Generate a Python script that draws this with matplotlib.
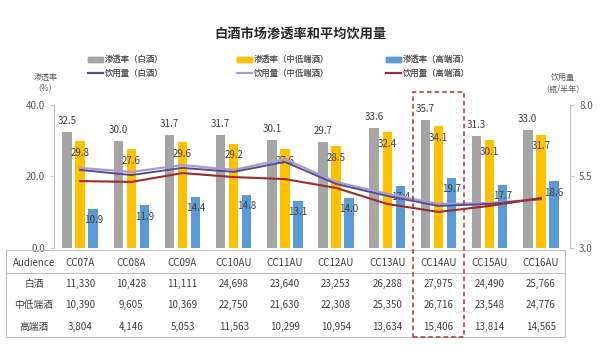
import matplotlib
matplotlib.use("Agg")
import matplotlib.pyplot as plt
import matplotlib.transforms as mtransforms
from matplotlib.patches import Rectangle, Patch
from matplotlib.lines import Line2D
import numpy as np

plt.rcParams['font.family'] = ['Noto Sans CJK SC', 'DejaVu Sans']

categories = ["CC07A", "CC08A", "CC09A", "CC10AU", "CC11AU", "CC12AU", "CC13AU", "CC14AU", "CC15AU", "CC16AU"]
pen_baijiu = [32.5, 30.0, 31.7, 31.7, 30.1, 29.7, 33.6, 35.7, 31.3, 33.0]
pen_mid = [29.8, 27.6, 29.6, 29.2, 27.6, 28.5, 32.4, 34.1, 30.1, 31.7]
pen_high = [10.9, 11.9, 14.4, 14.8, 13.1, 14.0, 17.4, 19.7, 17.7, 18.6]
vol_baijiu = [5.73, 5.55, 5.80, 5.66, 6.01, 5.24, 4.82, 4.47, 4.54, 4.71]
vol_mid = [5.80, 5.66, 5.90, 5.73, 6.11, 5.31, 4.89, 4.54, 4.57, 4.71]
vol_high = [5.34, 5.31, 5.62, 5.48, 5.41, 5.10, 4.54, 4.26, 4.47, 4.75]
row_labels = ["白酒", "中低端酒", "高端酒"]
table_baijiu = ["11,330", "10,428", "11,111", "24,698", "23,640", "23,253", "26,288", "27,975", "24,490", "25,766"]
table_mid = ["10,390", "9,605", "10,369", "22,750", "21,630", "22,308", "25,350", "26,716", "23,548", "24,776"]
table_high = ["3,804", "4,146", "5,053", "11,563", "10,299", "10,954", "13,634", "15,406", "13,814", "14,565"]
legend_labels = ["渗透率（白酒）", "饮用量（白酒）", "渗透率（中低端酒）", "饮用量（中低端酒）", "渗透率（高端酒）", "饮用量（高端酒）"]

c_grey = "#A5A5A5"
c_yel = "#FFC000"
c_blue = "#5B9BD5"
c_pur = "#5A4A8E"
c_lpur = "#A89BCF"
c_red = "#A32A2C"
txt = "#404040"

fig = plt.figure(figsize=(6.0, 3.52), dpi=100)
fig.patch.set_facecolor("white")
ax = fig.add_axes([0.09, 0.2955, 0.86, 0.4062])
ax2 = ax.twinx()

x = np.arange(len(categories))
w = 0.185
off = 0.255
ax.bar(x - off, pen_baijiu, w, color=c_grey, zorder=2)
ax.bar(x, pen_mid, w, color=c_yel, zorder=2)
ax.bar(x + off, pen_high, w, color=c_blue, zorder=2)

for i in range(len(x)):
    ax.annotate(f"{pen_baijiu[i]:.1f}", (x[i] - off, pen_baijiu[i]), xytext=(0, 8),
                textcoords="offset points", ha="center", va="center", fontsize=7, color=txt)
    ax.annotate(f"{pen_mid[i]:.1f}", (x[i], pen_mid[i]), xytext=(0, -8.5),
                textcoords="offset points", ha="center", va="center", fontsize=7, color=txt)
    ax.annotate(f"{pen_high[i]:.1f}", (x[i] + off, pen_high[i]), xytext=(0, -8),
                textcoords="offset points", ha="center", va="center", fontsize=7, color=txt)

ax2.plot(x, vol_mid, color=c_lpur, lw=1.6, zorder=3)
ax2.plot(x, vol_baijiu, color=c_pur, lw=1.4, zorder=3)
ax2.plot(x, vol_high, color=c_red, lw=1.5, zorder=3)

ax.set_xlim(-0.51, 9.57)
ax.set_ylim(0, 40)
ax2.set_ylim(3, 8)
ax.set_yticks([0, 20, 40])
ax.set_yticklabels(["0.0", "20.0", "40.0"])
ax2.set_yticks([3, 5.5, 8])
ax2.set_yticklabels(["3.0", "5.5", "8.0"])
ax.set_xticks([])
for a in (ax, ax2):
    for s in a.spines.values():
        s.set_visible(False)
    a.tick_params(axis="y", labelsize=7, colors="#595959", length=3, width=0.6)
ax.spines["left"].set_visible(True)
ax.spines["left"].set_color("#BFBFBF")
ax2.spines["right"].set_visible(True)
ax2.spines["right"].set_color("#BFBFBF")
ax.tick_params(axis="y", color="#BFBFBF")
ax2.tick_params(axis="y", color="#BFBFBF")

# Title
fig.text(0.5, 0.905, "白酒市场渗透率和平均饮用量", ha="center", va="center",
         fontsize=9.5, fontweight="bold", color="#262626")

# Legend: three columns at fixed positions
handles = [Patch(color=c_grey), Line2D([], [], color=c_pur, lw=1.5),
           Patch(color=c_yel), Line2D([], [], color=c_lpur, lw=1.5),
           Patch(color=c_blue), Line2D([], [], color=c_red, lw=1.5)]
col_x = [88 / 600, 237 / 600, 386 / 600]
for k in range(3):
    lg = fig.legend(handles[2 * k:2 * k + 2], legend_labels[2 * k:2 * k + 2], loc="center left",
                    bbox_to_anchor=(col_x[k], 1 - 66.5 / 352), frameon=False, fontsize=6,
                    handlelength=1.8, handleheight=0.55, handletextpad=0.25, borderpad=0,
                    borderaxespad=0, labelspacing=0.55, labelcolor="#595959")
    fig.add_artist(lg)

# axis titles
fig.text(0.0755, 0.765, "渗透率\n（%）", ha="center", va="center", fontsize=5.8,
         color="#595959", linespacing=1.2)
fig.text(0.938, 0.762, "饮用量\n（瓶/半年）", ha="center", va="center", fontsize=5.8,
         color="#595959", linespacing=1.2)

# Table
bt = mtransforms.blended_transform_factory(ax.transData, fig.transFigure)
fig.add_artist(Rectangle((6 / 600, 1 - 337 / 352), 559 / 600, 87 / 352,
                         transform=fig.transFigure, fill=False, edgecolor="#BFBFBF", lw=0.8))
fig.add_artist(Line2D([6 / 600, 565 / 600], [1 - 273 / 352, 1 - 273 / 352],
                      transform=fig.transFigure, color="#BFBFBF", lw=0.8))
row_y = [1 - 263 / 352, 1 - 284 / 352, 1 - 305 / 352, 1 - 327 / 352]
fig.text(34 / 600, row_y[0], "Audience", ha="center", va="center", fontsize=7, color=txt)
for j, lab in enumerate(row_labels):
    fig.text(34 / 600, row_y[j + 1], lab, ha="center", va="center", fontsize=7, color=txt)
for i in range(len(x)):
    ax.text(x[i], row_y[0], categories[i], transform=bt, ha="center", va="center", fontsize=7, color=txt)
    ax.text(x[i], row_y[1], table_baijiu[i], transform=bt, ha="center", va="center", fontsize=7, color=txt)
    ax.text(x[i], row_y[2], table_mid[i], transform=bt, ha="center", va="center", fontsize=7, color=txt)
    ax.text(x[i], row_y[3], table_high[i], transform=bt, ha="center", va="center", fontsize=7, color=txt)

# Highlight box around CC14AU
hi = categories.index("CC14AU")
fig.add_artist(Rectangle((hi - 0.49, 1 - 337 / 352), 0.98, 245 / 352, transform=bt,
                         fill=False, edgecolor="#B0303A", lw=1.1, ls=(0, (3, 2)), zorder=10))

fig.savefig("out.png", dpi=100, facecolor="white")
